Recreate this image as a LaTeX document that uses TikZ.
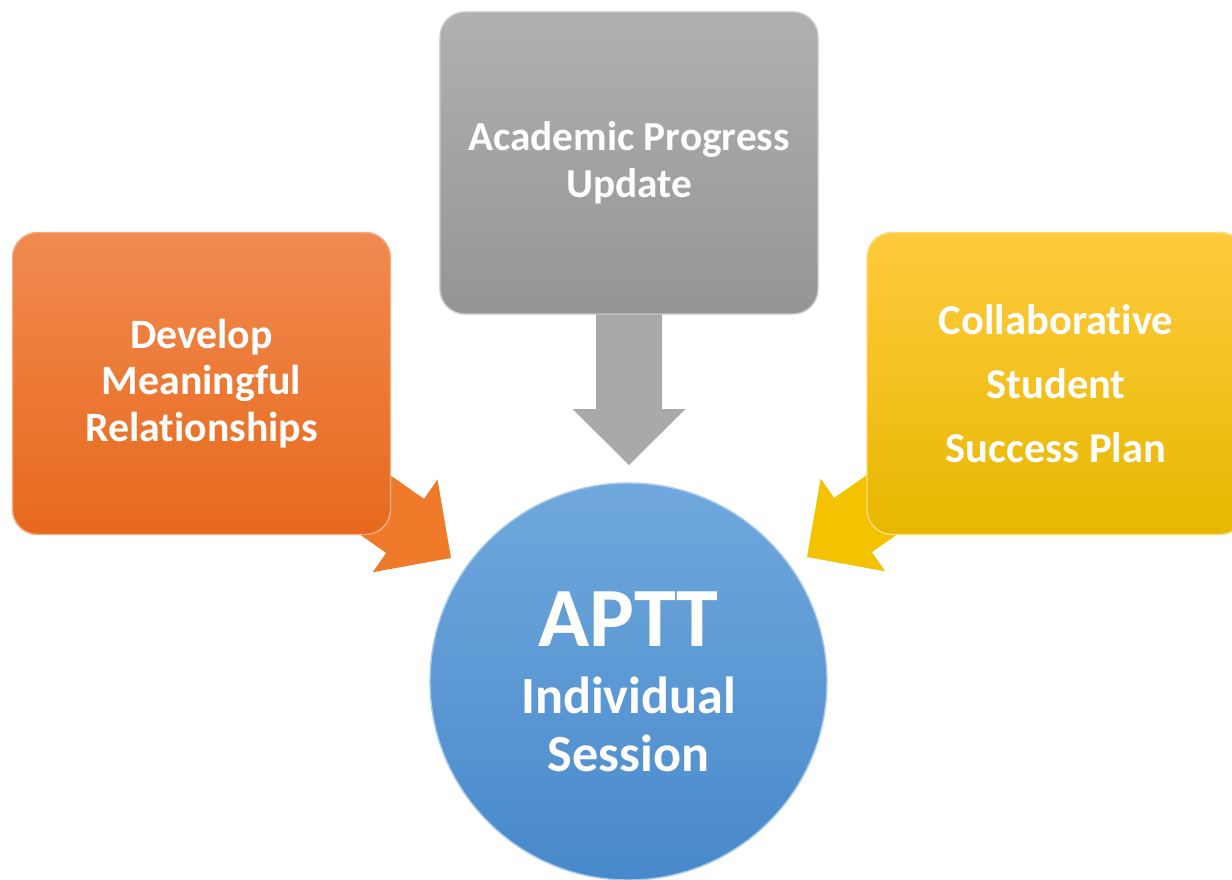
\documentclass[tikz,border=0pt]{standalone}
\usepackage{fontspec}
\setmainfont{Carlito}[Ligatures=NoCommon]
\usetikzlibrary{calc}
\usetikzlibrary{backgrounds}
\usetikzlibrary{positioning}

\definecolor{grayTop}{HTML}{B0B0B0}
\definecolor{grayBot}{HTML}{959595}
\definecolor{orangeTop}{HTML}{F08A50}
\definecolor{orangeBot}{HTML}{E8691C}
\definecolor{yellowTop}{HTML}{FFCA3E}
\definecolor{yellowBot}{HTML}{E7B800}
\definecolor{blueTop}{HTML}{70A8DD}
\definecolor{blueBot}{HTML}{4889CB}
\definecolor{arrGray}{HTML}{A9A9A9}
\definecolor{arrOrange}{HTML}{EE7A2A}
\definecolor{arrYellow}{HTML}{F4C200}

\begin{document}
\begin{tikzpicture}[x=0.2mm, y=-0.2mm,
box/.style={rounded corners=0.5cm, minimum width=7.56cm, minimum height=6.04cm,
inner sep=0pt, align=center, text=white, line width=0.8pt},
hub/.style={circle, minimum size=7.94cm, inner sep=0pt, align=center,
text=white, top color=blueTop, bottom color=blueBot, draw=blueTop!60!white,
line width=0.8pt}]
\useasboundingbox (0,0) rectangle (1232,880);
\node[box, top color=grayTop, bottom color=grayBot, draw=grayTop!70!white,
font=\bfseries\fontsize{23.5}{26.6}\selectfont] (apu) at (629,163)
{Academic Progress\\Update};
\node[box, top color=orangeTop, bottom color=orangeBot, draw=orangeTop!70!white,
font=\bfseries\fontsize{23.8}{26.6}\selectfont] (dmr) at (201.5,383.5)
{Develop\\Meaningful\\Relationships};
\node[box, top color=yellowTop, bottom color=yellowBot, draw=yellowTop!70!white,
font=\bfseries\fontsize{24.2}{36.3}\selectfont] (cssp) at (1056,383.5)
{Collaborative\\Student\\Success Plan};
\node[hub, font=\bfseries\fontsize{29.7}{32.9}\selectfont] (aptt) at (628.5,681.5)
{{\fontsize{48}{48}\selectfont APTT}\\[5.5pt]Individual\\Session};
% arrow tips next to the hub
\coordinate (t1) at (629,465);
\coordinate (t2) at (451,558);
\coordinate (t3) at (807,557);
\begin{scope}[on background layer]
\foreach \s/\t/\c in {apu/t1/arrGray, dmr/t2/arrOrange, cssp/t3/arrYellow}{
\coordinate (hb) at ($(\t)!1.12cm!(\s)$);
\fill[\c] ($(\s)!0.66cm!90:(\t)$) -- ($(hb)!0.66cm!90:(\t)$)
-- ($(hb)!1.13cm!90:(\t)$) -- (\t) -- ($(hb)!1.13cm!-90:(\t)$)
-- ($(hb)!0.66cm!-90:(\t)$) -- ($(\s)!0.66cm!-90:(\t)$) -- cycle;}
\end{scope}
\end{tikzpicture}
\end{document}
